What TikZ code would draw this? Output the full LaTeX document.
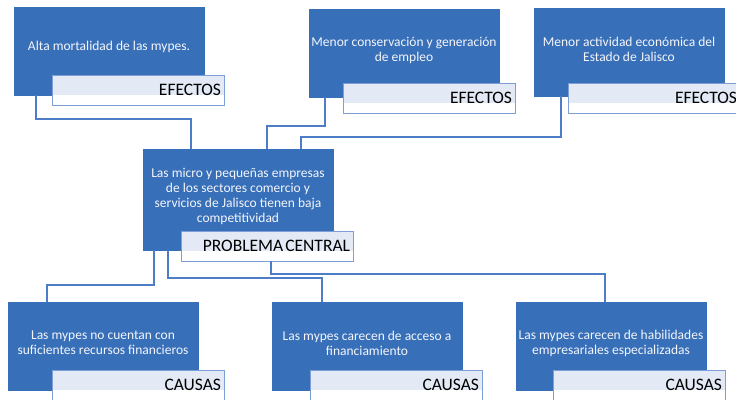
\documentclass[tikz,border=0pt]{standalone}
\usepackage{fontspec}
\setmainfont{Carlito}
\definecolor{boxblue}{RGB}{56,111,185}
\definecolor{linkblue}{RGB}{78,125,200}
\definecolor{tagline}{RGB}{125,158,214}
\definecolor{tagfill}{RGB}{227,234,245}
\definecolor{boxtext}{RGB}{244,246,250}
\begin{document}
\begin{tikzpicture}[x=1pt,y=1pt,yscale=-1,xscale=1,
	card/.style={fill=boxblue, draw=boxblue, inner sep=0pt, outer sep=0pt, minimum width=190pt, minimum height=88pt, anchor=north west},
	cardtext/.style={align=center, text=boxtext, inner sep=0pt, font=\fontsize{13.5}{15}\selectfont},
	tag/.style={draw=tagline, line width=0.8pt, fill=white, outer sep=0pt, inner xsep=3pt, inner ysep=0pt, minimum width=172pt, minimum height=30pt, text width=166pt, align=right, anchor=north west, font=\fontsize{17.5}{19}\selectfont,
		path picture={\fill[tagfill] (path picture bounding box.north west) rectangle ([yshift=10pt]path picture bounding box.south east);}},
	link/.style={draw=linkblue, line width=1.4pt}]
	\useasboundingbox (0,0) rectangle (736,399);
	
	%efectos
	\node[card] (e1) at (14,7) {};
	\node[cardtext] (e1x) at ([yshift=-4pt]e1.center) {Alta mortalidad de las mypes.};
	\node[tag] (e1t) at (52,75) {EFECTOS};
	\node[card] (e2) at (309,9) {};
	\node[cardtext] (e2x) at ([yshift=-3pt]e2.center) {Menor conservación y generación\\de empleo};
	\node[tag] (e2t) at (343,83) {EFECTOS};
	\node[card] (e3) at (534,8) {};
	\node[cardtext] (e3x) at ([yshift=-3pt]e3.center) {Menor actividad económica del\\Estado de Jalisco};
	\node[tag] (e3t) at (568,83) {EFECTOS};
	
	%problema central
	\node[card, minimum height=101pt] (pc) at (143,149) {};
	\node[cardtext] (pcx) at ([yshift=-3pt]pc.center) {Las micro y pequeñas empresas\\de los sectores comercio y\\servicios de Jalisco tienen baja\\competitividad};
	\node[tag] (pct) at (181,231) {{\spaceskip=2pt PROBLEMA CENTRAL}};
	
	%causas
	\node[card] (c1) at (8,302) {};
	\node[cardtext] (c1x) at ([yshift=-3pt]c1.center) {Las mypes no cuentan con\\suficientes recursos financieros};
	\node[tag] (c1t) at (52,370) {CAUSAS};
	\node[card] (c2) at (272,302) {};
	\node[cardtext] (c2x) at ([yshift=-3pt]c2.center) {Las mypes carecen de acceso a\\financiamiento};
	\node[tag] (c2t) at (310,370) {CAUSAS};
	\node[card] (c3) at (516,302) {};
	\node[cardtext] (c3x) at ([yshift=-3pt]c3.center) {Las mypes carecen de habilidades\\empresariales especializadas};
	\node[tag] (c3t) at (553,370) {CAUSAS};
	
	\draw[link] ([xshift=22pt]e1.south west) |- ([xshift=48pt,yshift=-30pt]pc.north west) -- ([xshift=48pt]pc.north west);
	\draw[link] ([xshift=16pt]e2.south west) |- ([xshift=124pt,yshift=-23pt]pc.north west) -- ([xshift=124pt]pc.north west);
	\draw[link] ([xshift=27pt]e3.south west) |- ([xshift=158pt,yshift=-12pt]pc.north west) -- ([xshift=158pt]pc.north west);
	
	\draw[link] ([xshift=11pt]pc.south west) |- ([xshift=39pt,yshift=-17pt]c1.north west) -- ([xshift=39pt]c1.north west);
	\draw[link] ([xshift=25pt]pc.south west) |- ([xshift=50pt,yshift=-24pt]c2.north west) -- ([xshift=50pt]c2.north west);
	\draw[link] ([xshift=90pt]pct.south west) |- ([xshift=89pt,yshift=-28pt]c3.north west) -- ([xshift=89pt]c3.north west);
	
\end{tikzpicture}
\end{document}
